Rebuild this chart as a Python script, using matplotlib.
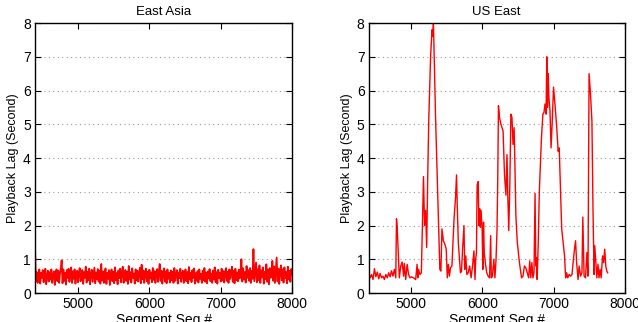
import numpy as np
import matplotlib
matplotlib.use("Agg")
import matplotlib.pyplot as plt

plt.rcParams['font.family'] = ['Liberation Sans', 'DejaVu Sans']

# East Asia: playback lag, evenly spaced segments across 4400..8000
asia_lag = [
    1.35, 0.36, 0.62, 0.30, 0.55, 0.70, 0.28, 0.60, 0.45, 0.68, 0.32, 0.58, 0.72, 0.26, 0.50, 0.66, 0.34, 0.62, 0.40, 0.70,
    0.30, 0.55, 0.64, 0.24, 0.60, 0.70, 0.35, 0.66, 0.30, 0.58, 0.74, 0.97, 0.29, 0.70, 0.36, 0.60, 0.25, 0.68, 0.45, 0.72,
    0.33, 0.57, 0.76, 0.30, 0.64, 0.42, 0.70, 0.28, 0.55, 0.66, 0.32, 0.60, 0.74, 0.35, 0.50, 0.68, 0.27, 0.62, 0.45, 0.78,
    0.31, 0.63, 0.38, 0.72, 0.26, 0.58, 0.69, 0.33, 0.54, 0.75, 0.29, 0.61, 0.40, 0.71, 0.34, 0.66, 0.28, 0.86, 0.37, 0.64,
    0.30, 0.57, 0.73, 0.27, 0.60, 0.42, 0.68, 0.24, 0.55, 0.70, 0.35, 0.63, 0.29, 0.76, 0.38, 0.59, 0.26, 0.67, 0.44, 0.72,
    0.32, 0.61, 0.78, 0.30, 0.55, 0.68, 0.36, 0.64, 0.27, 0.80, 0.40, 0.62, 0.31, 0.73, 0.45, 0.58, 0.28, 0.70, 0.38, 0.66,
    0.34, 0.60, 0.75, 0.29, 0.84, 0.41, 0.67, 0.30, 0.58, 0.72, 0.35, 0.63, 0.27, 0.69, 0.43, 0.61, 0.32, 0.74, 0.39, 0.65,
    0.30, 0.56, 0.71, 0.33, 0.62, 0.86, 0.36, 0.66, 0.28, 0.59, 0.73, 0.34, 0.64, 0.29, 0.70, 0.42, 0.60, 0.31, 0.67, 0.38,
    0.63, 0.30, 0.74, 0.36, 0.57, 0.68, 0.28, 0.61, 0.44, 0.72, 0.33, 0.58, 0.66, 0.30, 0.55, 0.70, 0.35, 0.62, 0.29, 0.77,
    0.40, 0.60, 0.32, 0.68, 0.45, 0.73, 0.28, 0.59, 0.36, 0.65, 0.31, 0.70, 0.42, 0.57, 0.30, 0.66, 0.38, 0.74, 0.33, 0.61,
    0.29, 0.64, 0.43, 0.71, 0.35, 0.58, 0.30, 0.67, 0.40, 0.76, 0.32, 0.62, 0.28, 0.69, 0.44, 0.60, 0.34, 0.72, 0.37, 0.65,
    0.31, 0.59, 0.74, 0.36, 0.63, 0.30, 0.70, 0.42, 0.57, 0.78, 0.33, 0.66, 0.29, 0.72, 0.38, 0.61, 0.35, 0.69, 0.43, 0.64,
    1.00, 0.34, 0.73, 0.40, 0.62, 0.31, 0.80, 0.45, 0.68, 0.36, 0.74, 0.30, 0.66, 0.42, 1.30, 0.35, 0.64, 0.90, 0.32, 0.70,
    0.38, 0.82, 0.30, 0.67, 0.46, 0.76, 0.28, 0.63, 0.41, 0.85, 0.33, 0.70, 0.26, 0.74, 0.45, 0.62, 0.95, 0.36, 0.79, 0.30,
    0.68, 1.05, 0.34, 0.72, 0.27, 0.64, 0.82, 0.38, 0.70, 0.31, 0.76, 0.44, 0.62, 0.29, 0.78, 0.40, 0.66, 0.33, 0.71, 0.55,
]
asia_seq = np.linspace(4400, 8000, len(asia_lag))

# US East: segment seq / playback lag
us_seq = [4400, 4420, 4440, 4460, 4480, 4500, 4520, 4540, 4560, 4580, 4600, 4620, 4640, 4660, 4680, 4700, 4720, 4740,
          4760, 4780, 4790, 4800, 4830, 4850, 4870, 4890, 4900, 4920, 4940, 4960, 4980, 5000, 5030, 5060, 5080, 5090,
          5100, 5120, 5140, 5160, 5170, 5185, 5200, 5215, 5230, 5245, 5270, 5290, 5300, 5310, 5340, 5370, 5400, 5415,
          5430, 5450, 5470, 5490, 5505, 5520, 5535, 5550, 5570, 5600, 5620, 5635, 5645, 5660, 5690, 5705, 5720, 5740,
          5750, 5765, 5780, 5800, 5820, 5840, 5860, 5880, 5895, 5905, 5915, 5925, 5940, 5950, 5960, 5970, 5980, 5995,
          6005, 6015, 6025, 6040, 6060, 6080, 6100, 6115, 6125, 6140, 6160, 6175, 6190, 6205, 6215, 6225, 6240, 6260,
          6290, 6310, 6330, 6345, 6355, 6370, 6385, 6400, 6415, 6430, 6445, 6455, 6470, 6490, 6520, 6550, 6570, 6590,
          6610, 6630, 6650, 6665, 6680, 6695, 6710, 6725, 6740, 6750, 6760, 6770, 6785, 6800, 6830, 6850, 6865, 6880,
          6895, 6905, 6915, 6925, 6935, 6950, 6965, 6980, 7000, 7020, 7045, 7065, 7080, 7095, 7105, 7115, 7130, 7155,
          7170, 7185, 7200, 7220, 7240, 7260, 7280, 7295, 7310, 7325, 7345, 7360, 7380, 7400, 7412, 7430, 7450, 7470,
          7485, 7500, 7520, 7540, 7555, 7570, 7580, 7595, 7610, 7625, 7640, 7655, 7670, 7690, 7705, 7720, 7735, 7750,
          7762]
us_lag = [0.60, 0.45, 0.55, 0.40, 0.72, 0.48, 0.62, 0.42, 0.58, 0.45, 0.50, 0.40, 0.55, 0.45, 0.60, 0.48, 0.66, 0.50,
          0.70, 0.45, 2.20, 1.95, 0.45, 0.80, 0.92, 0.50, 0.88, 0.40, 0.85, 0.55, 0.45, 0.48, 0.45, 0.40, 0.85, 0.45,
          0.70, 0.55, 0.60, 2.50, 3.45, 2.00, 2.45, 1.35, 3.50, 5.20, 7.00, 7.80, 7.60, 8.00, 5.20, 3.00, 0.70, 0.65,
          1.90, 1.55, 1.45, 1.30, 0.45, 0.85, 0.50, 0.75, 0.80, 2.20, 2.80, 3.50, 2.60, 1.50, 0.60, 0.65, 1.30, 2.00,
          0.70, 1.10, 0.55, 0.60, 0.80, 0.45, 0.80, 1.25, 0.40, 1.00, 1.20, 3.20, 3.30, 2.00, 2.50, 1.95, 2.45, 1.90,
          0.70, 2.10, 1.20, 0.90, 0.60, 0.50, 0.45, 1.70, 0.45, 0.50, 1.00, 0.45, 0.95, 1.90, 3.40, 5.55, 5.20, 5.00,
          4.80, 3.50, 2.90, 4.10, 3.00, 1.85, 3.20, 5.30, 5.20, 4.40, 4.90, 4.00, 2.30, 1.50, 0.90, 0.45, 0.50, 0.80,
          0.75, 0.60, 0.45, 0.95, 0.45, 0.90, 0.45, 0.60, 2.95, 0.80, 1.05, 0.40, 1.50, 3.00, 4.60, 5.30, 5.35, 5.60,
          5.30, 7.00, 5.50, 6.50, 5.80, 5.40, 4.30, 5.00, 6.10, 5.60, 4.90, 4.20, 4.30, 3.30, 2.55, 1.90, 1.60, 1.10,
          0.45, 0.60, 0.45, 0.55, 0.50, 0.55, 1.00, 1.30, 1.55, 0.90, 0.40, 0.80, 0.50, 0.60, 2.25, 0.50, 0.45, 1.20,
          0.50, 6.50, 5.90, 5.10, 2.50, 0.55, 1.40, 0.90, 0.45, 0.85, 0.45, 0.70, 0.45, 1.10, 0.90, 1.30, 0.80, 0.65,
          0.60]

fig = plt.figure(figsize=(6.38, 3.22), dpi=100)
ax1 = fig.add_axes([0.0549, 0.090, 0.403, 0.8385])
ax2 = fig.add_axes([0.578, 0.090, 0.401, 0.8385])

for ax, x, y, title, lw in [(ax1, asia_seq, asia_lag, "East Asia", 1.3), (ax2, us_seq, us_lag, "US East", 1.0)]:
    ax.plot(x, y, color="red", lw=lw)
    ax.set_xlim(4400, 8000)
    ax.set_ylim(0, 8)
    ax.set_xticks([5000, 6000, 7000, 8000])
    ax.set_yticks(range(0, 9))
    ax.yaxis.grid(True, linestyle=(0, (1, 3)), color="#999999", lw=0.8)
    ax.tick_params(direction="in", top=True, right=True, length=4, labelsize=10, pad=3)
    for s in ax.spines.values():
        s.set_linewidth(1.0)
    ax.set_title(title, fontsize=9.5, pad=6)
    ax.set_xlabel("Segment Seq #", fontsize=10, labelpad=1)
    ax.set_ylabel("Playback Lag (Second)", fontsize=9, labelpad=3)

fig.savefig("out.png", dpi=100)
